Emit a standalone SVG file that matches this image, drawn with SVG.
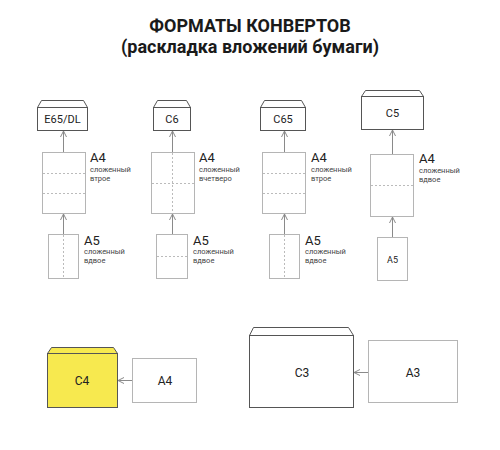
<svg xmlns="http://www.w3.org/2000/svg" width="500" height="450" viewBox="0 0 500 450">
<defs>
<style>
.title{font-family:Roboto,"Liberation Sans",sans-serif;font-weight:bold;font-size:18px;fill:#1a1a1a;text-anchor:middle}
.env{fill:#fff;stroke:#555;stroke-width:1}
.flap{fill:#fff;stroke:#555;stroke-width:1;stroke-linejoin:round}
.sheet{fill:#fff;stroke:#b5b5b5;stroke-width:1}
.fold{stroke:#bbb;stroke-width:1;stroke-dasharray:2,2;fill:none}
.etxt{font-family:Roboto,"Liberation Sans",sans-serif;font-size:11px;fill:#222;text-anchor:middle}
.big{font-family:Roboto,"Liberation Sans",sans-serif;font-size:13px;fill:#222}
.small{font-family:Roboto,"Liberation Sans",sans-serif;font-size:7.5px;fill:#444}
.btxt{font-family:Roboto,"Liberation Sans",sans-serif;font-size:12px;fill:#222;text-anchor:middle}
.arr{stroke:#8a8a8a;stroke-width:1;fill:none;marker-end:url(#ah)}
</style>
<marker id="ah" viewBox="0 0 8 8" refX="7" refY="4" markerWidth="8" markerHeight="8" markerUnits="userSpaceOnUse" orient="auto">
<path d="M1,1 L7,4 L1,7" fill="none" stroke="#8a8a8a" stroke-width="1"/>
</marker>
</defs>
<rect width="500" height="450" fill="#fff"/>
<text class="title" x="250" y="32">ФОРМАТЫ КОНВЕРТОВ</text>
<text class="title" x="250" y="53">(раскладка вложений бумаги)</text>

<!-- Column 1 -->
<g id="env-e65">
<path class="flap" d="M37.5,107.5 L41.5,100.5 L83.5,100.5 L87.5,107.5 Z"/>
<rect class="env" x="37.5" y="107.5" width="50" height="23"/>
<text class="etxt" x="62.5" y="123">E65/DL</text>
</g>
<g id="a4-1">
<rect class="sheet" x="42.5" y="152.5" width="43" height="61"/>
<line class="fold" x1="43" y1="173.5" x2="85" y2="173.5"/>
<line class="fold" x1="43" y1="193.5" x2="85" y2="193.5"/>
<text class="big" x="90" y="162">A4</text>
<text class="small" x="90" y="172">сложенный</text>
<text class="small" x="90" y="181">втрое</text>
</g>
<g id="a5-1">
<rect class="sheet" x="48.5" y="234.5" width="30" height="44"/>
<line class="fold" x1="63.5" y1="235" x2="63.5" y2="278"/>
<text class="big" x="84" y="245">A5</text>
<text class="small" x="84" y="254">сложенный</text>
<text class="small" x="84" y="263">вдвое</text>
</g>

<!-- Column 2 -->
<g id="env-c6">
<path class="flap" d="M153.5,107.5 L157.5,100.5 L186.5,100.5 L190.5,107.5 Z"/>
<rect class="env" x="153.5" y="107.5" width="37" height="23"/>
<text class="etxt" x="172" y="123">C6</text>
</g>
<g id="a4-2">
<rect class="sheet" x="151.5" y="152.5" width="43" height="61"/>
<line class="fold" x1="172.5" y1="153" x2="172.5" y2="213"/>
<line class="fold" x1="152" y1="183.5" x2="194" y2="183.5"/>
<text class="big" x="199" y="162">A4</text>
<text class="small" x="199" y="172">сложенный</text>
<text class="small" x="199" y="181">вчетверо</text>
</g>
<g id="a5-2">
<rect class="sheet" x="156.5" y="234.5" width="31" height="44"/>
<line class="fold" x1="157" y1="256.5" x2="187" y2="256.5"/>
<text class="big" x="193" y="245">A5</text>
<text class="small" x="193" y="254">сложенный</text>
<text class="small" x="193" y="263">вдвое</text>
</g>

<!-- Column 3 -->
<g id="env-c65">
<path class="flap" d="M260.5,107.5 L264.5,100.5 L301.5,100.5 L305.5,107.5 Z"/>
<rect class="env" x="260.5" y="107.5" width="45" height="23"/>
<text class="etxt" x="283" y="123">C65</text>
</g>
<g id="a4-3">
<rect class="sheet" x="262.5" y="152.5" width="43" height="61"/>
<line class="fold" x1="263" y1="173.5" x2="305" y2="173.5"/>
<line class="fold" x1="263" y1="193.5" x2="305" y2="193.5"/>
<text class="big" x="311" y="162">A4</text>
<text class="small" x="311" y="172">сложенный</text>
<text class="small" x="311" y="181">втрое</text>
</g>
<g id="a5-3">
<rect class="sheet" x="269.5" y="234.5" width="30" height="44"/>
<line class="fold" x1="284.5" y1="235" x2="284.5" y2="278"/>
<text class="big" x="305" y="245">A5</text>
<text class="small" x="305" y="254">сложенный</text>
<text class="small" x="305" y="263">вдвое</text>
</g>

<!-- Column 4 -->
<g id="env-c5">
<path class="flap" d="M361.5,96.5 L365.5,90.5 L419.5,90.5 L423.5,96.5 Z"/>
<rect class="env" x="361.5" y="96.5" width="62" height="33"/>
<text class="etxt" x="392.5" y="117">C5</text>
</g>
<g id="a4-4">
<rect class="sheet" x="370.5" y="154.5" width="43" height="62"/>
<line class="fold" x1="371" y1="185.5" x2="413" y2="185.5"/>
<text class="big" x="419" y="163">A4</text>
<text class="small" x="419" y="173">сложенный</text>
<text class="small" x="419" y="182">вдвое</text>
</g>
<g id="a5-4">
<rect class="sheet" x="377.5" y="237.5" width="30" height="43"/>
<text class="etxt" x="392.5" y="263" style="font-size:9px">A5</text>
</g>

<!-- Bottom row -->
<g id="env-c4">
<path d="M47.5,353.5 L51.5,347.5 L113.5,347.5 L117.5,353.5 Z" fill="#f7e94f" stroke="#555" stroke-linejoin="round"/>
<rect x="47.5" y="353.5" width="70" height="54" fill="#f7e94f" stroke="#555"/>
<text class="btxt" x="82" y="385">C4</text>
</g>
<g id="a4-bottom">
<rect class="sheet" x="132.5" y="358.5" width="64" height="44"/>
<text class="btxt" x="165" y="385">A4</text>
</g>
<g id="env-c3">
<path class="flap" d="M249.5,335.5 L253.5,327.5 L348.5,327.5 L353.5,335.5 Z"/>
<rect class="env" x="249.5" y="335.5" width="104" height="72"/>
<text class="btxt" x="302" y="377">C3</text>
</g>
<g id="a3">
<rect class="sheet" x="368.5" y="340.5" width="89" height="62"/>
<text class="btxt" x="413" y="377">A3</text>
</g>

<g id="connectors">
<line class="arr" x1="63.5" y1="152" x2="63.5" y2="131"/>
<line class="arr" x1="63.5" y1="234" x2="63.5" y2="214"/>
<line class="arr" x1="172.5" y1="152" x2="172.5" y2="131"/>
<line class="arr" x1="172.5" y1="234" x2="172.5" y2="214"/>
<line class="arr" x1="284.5" y1="152" x2="284.5" y2="131"/>
<line class="arr" x1="284.5" y1="234" x2="284.5" y2="214"/>
<line class="arr" x1="392.5" y1="154" x2="392.5" y2="130"/>
<line class="arr" x1="392.5" y1="237" x2="392.5" y2="217"/>
<line class="arr" x1="132" y1="380.5" x2="118" y2="380.5"/>
<line class="arr" x1="368" y1="372.5" x2="354" y2="372.5"/>
</g>
</svg>
